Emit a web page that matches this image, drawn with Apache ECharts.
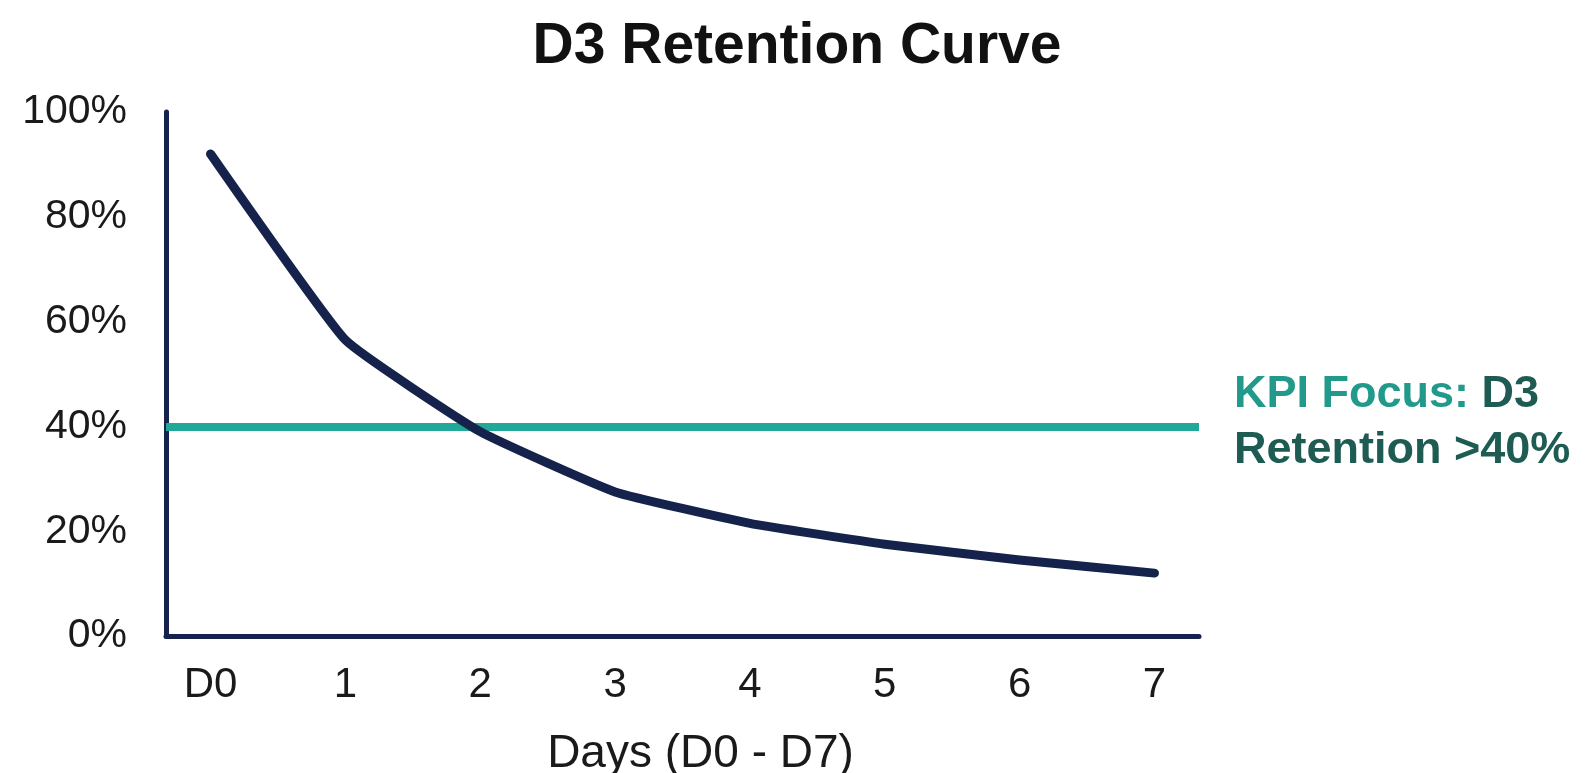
<!DOCTYPE html>
<html>
<head>
<meta charset="utf-8">
<script src="https://cdn.jsdelivr.net/npm/echarts@6/dist/echarts.min.js"></script>
<style>
html,body{margin:0;padding:0;background:#fff;}
#chart{width:1594px;height:773px;}
</style>
</head>
<body>
<div id="chart"></div>
<script>
const dayLabels = ['D0', '1', '2', '3', '4', '5', '6', '7'];
const dayIndex = [0, 1, 2, 3, 4, 5, 6, 7];
const retention = [92, 56.5, 39, 27.5, 21.5, 17.5, 14.5, 12];
const kpiTarget = 40;
const yTicks = [0, 20, 40, 60, 80, 100];

const chart = echarts.init(document.getElementById('chart'));
const navy = '#15234c';
const teal = '#22a898';
const font = '"Liberation Sans", Arial, sans-serif';

chart.setOption({
  backgroundColor: '#ffffff',
  animation: false,
  title: {
    text: 'D3 Retention Curve',
    left: 'center',
    top: 14,
    textStyle: {fontFamily: font, fontSize: 57, fontWeight: 'bold', color: '#111111'}
  },
  grid: {left: 166, right: 395, top: 112, bottom: 137, containLabel: false, outerBoundsMode: 'none'},
  xAxis: {
    type: 'value',
    min: -0.33,
    max: 7.33,
    name: 'Days (D0 - D7)',
    nameLocation: 'middle',
    nameGap: 95,
    nameTextStyle: {fontFamily: font, fontSize: 46, color: '#1a1a1a', padding: [0, 0, 0, 36]},
    axisLine: {show: true, onZero: false, lineStyle: {color: navy, width: 5}},
    axisTick: {show: false},
    splitLine: {show: false},
    axisLabel: {
      customValues: dayIndex,
      formatter: v => dayLabels[Math.round(v)],
      margin: 28,
      fontFamily: font, fontSize: 42, color: '#1a1a1a'
    }
  },
  yAxis: {
    type: 'value',
    min: 0,
    max: 100,
    interval: 20,
    axisLine: {show: true, onZero: false, lineStyle: {color: navy, width: 5}},
    axisTick: {show: false},
    splitLine: {show: false},
    axisLabel: {
      customValues: yTicks,
      formatter: '{value}%',
      margin: 39,
      fontFamily: font, fontSize: 41, color: '#1a1a1a'
    }
  },
  series: [{
    type: 'line',
    data: dayIndex.map((d, i) => [d, retention[i]]),
    symbol: 'none',
    smooth: 0.12,
    lineStyle: {color: navy, width: 9, cap: 'round', join: 'round'},
    z: 3,
    markLine: {
      silent: true,
      symbol: ['none', 'none'],
      lineStyle: {color: teal, width: 8, type: 'solid'},
      z: 2,
      data: [{yAxis: kpiTarget}],
      label: {
        show: true,
        position: 'end',
        distance: 35,
        offset: [0, -4],
        formatter: '{a|KPI Focus: }{b|D3}\n{b|Retention >40%}',
        rich: {
          a: {fontFamily: font, fontSize: 45, fontWeight: 'bold', color: '#229a8b', lineHeight: 56},
          b: {fontFamily: font, fontSize: 45, fontWeight: 'bold', color: '#1e5c53', lineHeight: 56}
        }
      }
    }
  }]
});
</script>
</body>
</html>
